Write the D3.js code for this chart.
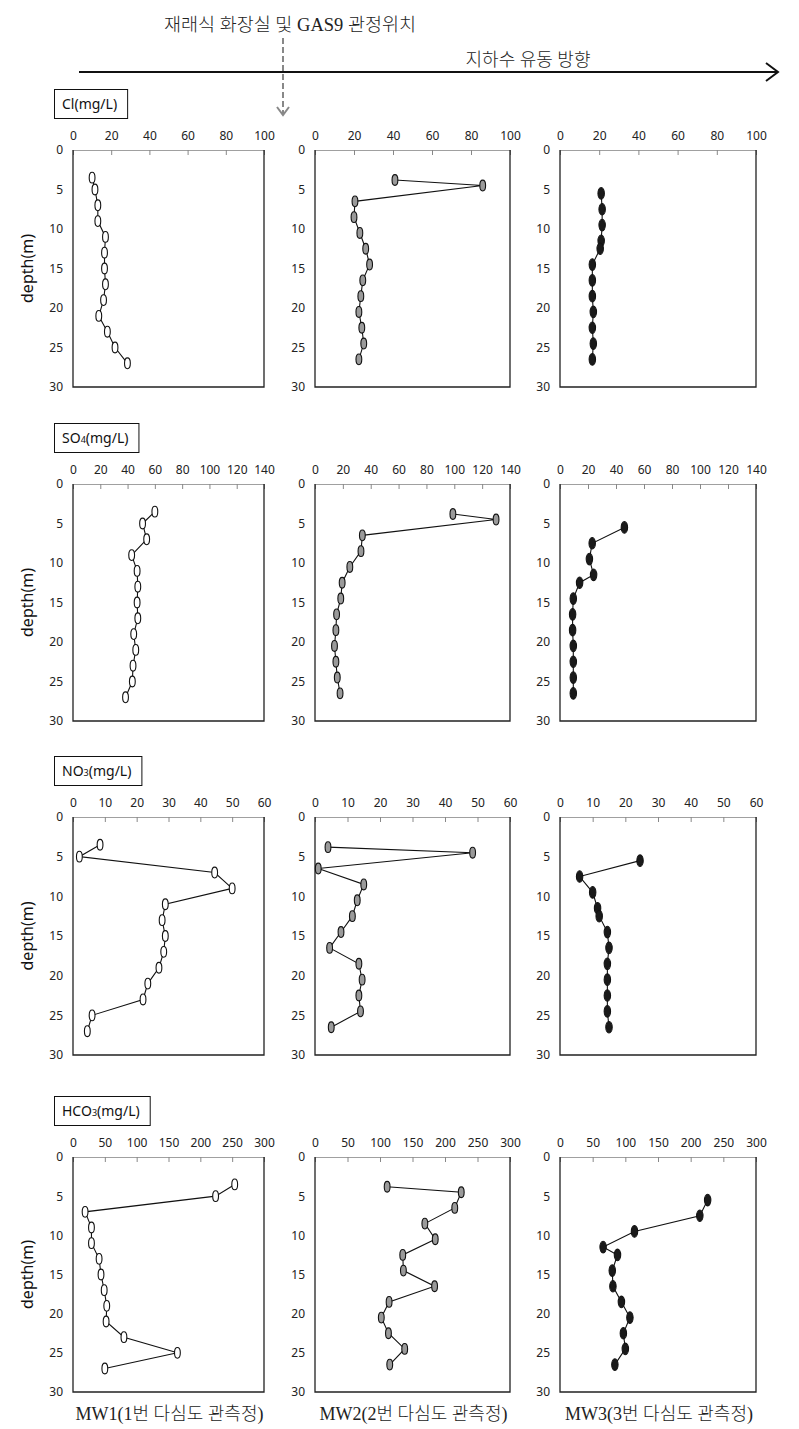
<!DOCTYPE html>
<html>
<head>
<meta charset="utf-8">
<script src="https://cdn.jsdelivr.net/npm/d3@7"></script>
<style>
  body { margin: 0; background: #fff; }
  svg { display: block; }
</style>
</head>
<body>
<div id="container"></div>
<script>
// depth of each sampling point per well (m)
const depthMW1 = [3.5, 5, 7, 9, 11, 13, 15, 17, 19, 21, 23, 25, 27];
const depthMW2 = [3.8, 4.5, 6.5, 8.5, 10.5, 12.5, 14.5, 16.5, 18.5, 20.5, 22.5, 24.5, 26.5];
const depthMW3 = [5.5, 7.5, 9.5, 11.5, 12.5, 14.5, 16.5, 18.5, 20.5, 22.5, 24.5, 26.5];

// Cl (mg/L)
const clMW1 = [10, 11.5, 13, 13, 17, 16.5, 16.5, 17, 16, 13.5, 18, 22, 28.5];
const clMW2 = [41, 86, 20.5, 20, 23, 26, 28, 24.5, 23.5, 22.5, 24, 25, 22.5];
const clMW3 = [21, 21.5, 21.5, 21, 20.5, 16.5, 16.5, 16.5, 17, 16.5, 17, 16.5];
// SO4 (mg/L)
const so4MW1 = [60, 51, 54, 43, 47, 47.5, 47, 47.5, 44.5, 46, 44, 43.5, 38.5];
const so4MW2 = [99, 130, 34, 33, 25, 19.5, 18.5, 15.5, 15, 14, 15, 16, 18];
const so4MW3 = [46, 23, 21, 24, 14, 9.5, 9, 9, 9.5, 9.5, 9.5, 9.5];
// NO3 (mg/L)
const no3MW1 = [8.5, 2, 44.5, 50, 29, 28, 29, 28.5, 27, 23.5, 22, 6, 4.5];
const no3MW2 = [4, 48.5, 1, 15, 13, 11.5, 8, 4.5, 13.5, 14.5, 13.5, 14, 5];
const no3MW3 = [24.5, 6, 10, 11.5, 12, 14.5, 15, 14.5, 14.5, 14.5, 14.5, 15];
// HCO3 (mg/L)
const hco3MW1 = [254, 224, 19, 29, 29, 41, 44, 49, 53, 52, 80, 164, 50];
const hco3MW2 = [111, 225, 215, 169, 185, 135, 136, 184, 114, 102, 113, 138, 115];
const hco3MW3 = [226, 214, 114, 66, 88, 80, 81, 94, 107, 97, 100, 84];

const paramNames = ["Cl", "SO", "NO", "HCO"];
const paramSubs = ["", "4", "3", "3"];
const paramMax = [100, 140, 60, 300];
const paramStep = [20, 20, 10, 50];
const depthTicks = [0, 5, 10, 15, 20, 25, 30];
const wellNames = ["MW1(1번 다심도 관측정)", "MW2(2번 다심도 관측정)", "MW3(3번 다심도 관측정)"];
const wellFill = ["#ffffff", "#9a9a9a", "#1a1a1a"];

const values = [
  [clMW1, clMW2, clMW3],
  [so4MW1, so4MW2, so4MW3],
  [no3MW1, no3MW2, no3MW3],
  [hco3MW1, hco3MW2, hco3MW3]
];
const depths = [depthMW1, depthMW2, depthMW3];

// layout
const W = 799, H = 1429;
const colLeft = [73, 315, 560];
const colRight = [264, 510, 756];
const rowTop = [150, 484, 817, 1157];
const rowBottom = [387, 721, 1055, 1392];

const sansFont = "'Noto Sans', 'Open Sans', sans-serif";
const korFont = "'Liberation Serif', 'Noto Sans CJK KR', serif";

const svg = d3.select("#container").append("svg")
  .attr("width", W).attr("height", H)
  .attr("viewBox", [0, 0, W, H]);

// header: flow direction arrow
svg.append("line")
  .attr("x1", 79).attr("x2", 778).attr("y1", 72).attr("y2", 72)
  .attr("stroke", "#111").attr("stroke-width", 2);
svg.append("path")
  .attr("d", "M766,63 L778,72 L766,81")
  .attr("fill", "none").attr("stroke", "#111").attr("stroke-width", 2);

svg.append("text")
  .attr("x", 528).attr("y", 66)
  .attr("text-anchor", "middle")
  .attr("font-family", korFont).attr("font-size", 18).attr("font-weight", 300)
  .attr("fill", "#222")
  .text("지하수 유동 방향");

svg.append("text")
  .attr("x", 290).attr("y", 31)
  .attr("text-anchor", "middle")
  .attr("font-family", korFont).attr("font-size", 18.5).attr("font-weight", 300)
  .attr("fill", "#222")
  .text("재래식 화장실 및 GAS9 관정위치");

// dashed gray pointer
svg.append("line")
  .attr("x1", 283).attr("x2", 283).attr("y1", 38).attr("y2", 114)
  .attr("stroke", "#888").attr("stroke-width", 2)
  .attr("stroke-dasharray", "6,3");
svg.append("path")
  .attr("d", "M277,107 L283,115 L289,107")
  .attr("fill", "none").attr("stroke", "#888").attr("stroke-width", 2);

const line = d3.line();

values.forEach((row, r) => {
  const yScale = d3.scaleLinear().domain([0, 30]).range([rowTop[r], rowBottom[r]]);

  // parameter label box
  const boxTop = rowTop[r] - 61;
  const lbl = svg.append("g");
  const t = lbl.append("text")
    .attr("x", 62).attr("y", boxTop + 20)
    .attr("font-family", sansFont).attr("font-size", 14)
    .attr("fill", "#111");
  t.append("tspan").text(paramNames[r]);
  if (paramSubs[r]) t.append("tspan").attr("font-size", 9).text(paramSubs[r]);
  t.append("tspan").text("(mg/L)");
  const bw = t.node().getComputedTextLength();
  lbl.insert("rect", "text")
    .attr("x", 54.5).attr("y", boxTop + 0.5)
    .attr("width", bw + 18).attr("height", 29)
    .attr("fill", "#fff").attr("stroke", "#111").attr("stroke-width", 1);

  row.forEach((vals, c) => {
    const xScale = d3.scaleLinear().domain([0, paramMax[r]]).range([colLeft[c], colRight[c]]);
    const g = svg.append("g");

    // top axis (gray with inward ticks)
    const xAxis = d3.axisTop(xScale)
      .tickValues(d3.range(0, paramMax[r] + 1, paramStep[r]))
      .tickSizeInner(-5).tickSizeOuter(0).tickPadding(10);
    const ax = g.append("g")
      .attr("transform", `translate(0,${rowTop[r]})`)
      .call(xAxis);
    ax.select(".domain").attr("stroke", "#a0a0a0");
    ax.selectAll(".tick line").attr("stroke", "#888");
    ax.selectAll(".tick text")
      .attr("font-family", sansFont).attr("font-size", 12).attr("fill", "#222");

    // left depth axis labels
    const yAxis = d3.axisLeft(yScale).tickValues(depthTicks).tickSize(0).tickPadding(10);
    const ay = g.append("g")
      .attr("transform", `translate(${colLeft[c]},0)`)
      .call(yAxis);
    ay.select(".domain").remove();
    ay.selectAll(".tick text")
      .attr("font-family", sansFont).attr("font-size", 12).attr("fill", "#222");

    // frame: left, right, bottom
    g.append("path")
      .attr("d", `M${colLeft[c]},${rowTop[r]} V${rowBottom[r]} H${colRight[c]} V${rowTop[r]}`)
      .attr("fill", "none").attr("stroke", "#222").attr("stroke-width", 1.3);

    const pts = vals.map((v, i) => [xScale(v), yScale(depths[c][i])]);
    g.append("path")
      .attr("d", line(pts))
      .attr("fill", "none").attr("stroke", "#111").attr("stroke-width", 1.1);

    g.selectAll("ellipse")
      .data(pts)
      .join("ellipse")
      .attr("cx", d => d[0]).attr("cy", d => d[1])
      .attr("rx", c === 2 ? 3.2 : 2.9).attr("ry", c === 2 ? 5.8 : 5.4)
      .attr("fill", wellFill[c])
      .attr("stroke", "#111").attr("stroke-width", 1.1);

    if (c === 0) {
      svg.append("text")
        .attr("transform", `translate(33,${(rowTop[r] + rowBottom[r]) / 2}) rotate(-90)`)
        .attr("text-anchor", "middle")
        .attr("font-family", sansFont).attr("font-size", 16)
        .attr("fill", "#111")
        .text("depth(m)");
    }
  });
});

// well names under the last row
wellNames.forEach((name, c) => {
  svg.append("text")
    .attr("x", (colLeft[c] + colRight[c]) / 2 + 1)
    .attr("y", 1420)
    .attr("text-anchor", "middle")
    .attr("font-family", korFont).attr("font-size", 18).attr("font-weight", 300)
    .attr("fill", "#222")
    .text(name);
});
</script>
</body>
</html>
